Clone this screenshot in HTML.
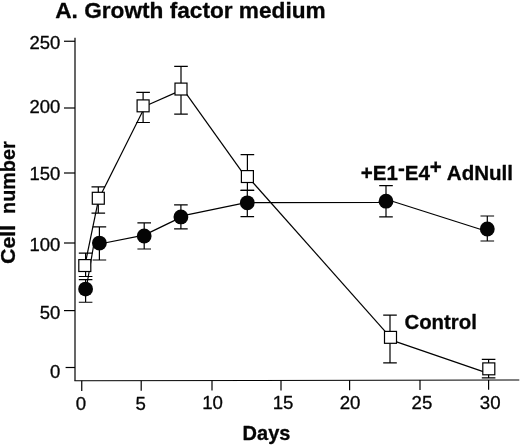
<!DOCTYPE html>
<html><head><meta charset="utf-8"><title>A. Growth factor medium</title>
<style>
html,body{margin:0;padding:0;background:#fff;}
svg{display:block;filter:grayscale(1);}
text{font-family:"Liberation Sans",Arial,Helvetica,sans-serif;fill:#050505;stroke:#050505;stroke-width:0.3px;stroke-linejoin:round;}
.b{font-weight:bold;}
.l{stroke:#000;stroke-width:1.2;fill:none;}
</style></head><body>
<svg width="520" height="445" viewBox="0 0 520 445">
<rect width="520" height="445" fill="#fff"/>
<g class="l">
<path d="M75 37.8V380.8"/>
<path d="M74.4 380.8L519.3 379.95" stroke-width="1.1"/>
<path d="M64 41.25H75"/>
<path d="M64 108H75"/>
<path d="M64 173H75"/>
<path d="M64 243H75"/>
<path d="M64 310.6H75"/>
<path d="M65.6 367.5H75"/>
<path d="M81.75 380.79V390.98"/>
<path d="M141.2 380.67V390.80"/>
<path d="M212 380.53V390.59"/>
<path d="M281 380.39V390.38"/>
<path d="M349.6 380.25V390.18"/>
<path d="M420 380.11V389.96"/>
<path d="M488.6 379.97V389.76"/>
</g>
<text font-size="17.6" text-anchor="end" transform="translate(60.2 49.2) scale(1.05 1)">250</text>
<text font-size="17.6" text-anchor="end" transform="translate(60.2 112.6) scale(1.05 1)">200</text>
<text font-size="17.6" text-anchor="end" transform="translate(60.2 179.8) scale(1.05 1)">150</text>
<text font-size="17.6" text-anchor="end" transform="translate(60.2 251.1) scale(1.05 1)">100</text>
<text font-size="17.6" text-anchor="end" transform="translate(60.2 319.2) scale(1.05 1)">50</text>
<text font-size="17.6" text-anchor="end" transform="translate(60.2 377.9) scale(1.05 1)">0</text>
<text font-size="17.6" text-anchor="middle" transform="translate(80.9 410) scale(1.06 1)">0</text>
<text font-size="17.6" text-anchor="middle" transform="translate(140.6 410) scale(1.06 1)">5</text>
<text font-size="17.6" text-anchor="middle" transform="translate(212.5 409.2) scale(1.06 1)">10</text>
<text font-size="17.6" text-anchor="middle" transform="translate(283 409.2) scale(1.06 1)">15</text>
<text font-size="17.6" text-anchor="middle" transform="translate(350.1 409.2) scale(1.06 1)">20</text>
<text font-size="17.6" text-anchor="middle" transform="translate(421.9 409.2) scale(1.06 1)">25</text>
<text font-size="17.6" text-anchor="middle" transform="translate(490.2 409.2) scale(1.06 1)">30</text>
<g class="l">
<path d="M84.9 265.4L98.8 198.1"/>
<path d="M101.0 194.6L143.4 109.8"/>
<path d="M146.0 105.7L178.0 91.6"/>
<path d="M186.0 93.4L242.4 172.4"/>
<path d="M247.4 176.3L390.0 336.8"/>
<path d="M390.75 339.85L489.0 373.6"/>
<path d="M94.04 243.0L86.65 286.0"/>
<path d="M99.4 244.0L144.2 235.1"/>
<path d="M144.2 235.1L180.9 217.4"/>
<path d="M180.9 216.2L247.3 202.3"/>
<path d="M247.3 202.7L386.0 202.5"/>
<path d="M386.0 199.2L487.3 231.5"/>
<path d="M85.6 253.1V276.5M78.8 253.1H92.4M78.8 276.5H92.4"/>
<path d="M98.3 186.9V213.1M91.5 186.9H105.1M91.5 213.1H105.1"/>
<path d="M143.1 92.3V122.5M136.3 92.3H149.9M136.3 122.5H149.9"/>
<path d="M181.0 66.3V114.2M174.2 66.3H187.8M174.2 114.2H187.8"/>
<path d="M247.4 154.6V190.3M240.6 154.6H254.2M240.6 190.3H254.2"/>
<path d="M390.0 315.2V362.8M383.2 315.2H396.8M383.2 362.8H396.8"/>
<path d="M488.6 359.3V377.8M481.8 359.3H495.4M481.8 377.8H495.4"/>
<path d="M85.6 279.6V302.25M78.8 279.6H92.4M78.8 302.25H92.4"/>
<path d="M99.4 226.9V260.0M92.6 226.9H106.2M92.6 260.0H106.2"/>
<path d="M144.2 222.9V249.0M137.4 222.9H151.0M137.4 249.0H151.0"/>
<path d="M180.9 204.8V228.8M174.1 204.8H187.7M174.1 228.8H187.7"/>
<path d="M247.3 190.3V216.7M240.5 190.3H254.1M240.5 216.7H254.1"/>
<path d="M386.0 185.6V216.9M379.2 185.6H392.8M379.2 216.9H392.8"/>
<path d="M487.3 216.0V241.0M480.5 216.0H494.1M480.5 241.0H494.1"/>
</g>
<circle cx="85.6" cy="289.1" r="7.4" fill="#050505"/>
<circle cx="99.4" cy="243.1" r="7.4" fill="#050505"/>
<circle cx="144.2" cy="236.0" r="7.4" fill="#050505"/>
<circle cx="180.9" cy="216.9" r="7.4" fill="#050505"/>
<circle cx="247.3" cy="202.8" r="7.4" fill="#050505"/>
<circle cx="386.0" cy="201.2" r="7.4" fill="#050505"/>
<circle cx="487.3" cy="229.0" r="7.4" fill="#050505"/>
<rect x="78.8" y="259.6" width="12" height="11.9" fill="#fff" stroke="#000" stroke-width="1.2"/>
<rect x="92.3" y="192.3" width="12" height="11.9" fill="#fff" stroke="#000" stroke-width="1.2"/>
<rect x="137.1" y="99.9" width="12" height="11.9" fill="#fff" stroke="#000" stroke-width="1.2"/>
<rect x="175.0" y="83.1" width="12" height="11.9" fill="#fff" stroke="#000" stroke-width="1.2"/>
<rect x="241.4" y="170.6" width="12" height="11.9" fill="#fff" stroke="#000" stroke-width="1.2"/>
<rect x="384.5" y="331.4" width="12" height="11.9" fill="#fff" stroke="#000" stroke-width="1.2"/>
<rect x="482.8" y="362.9" width="12" height="11.9" fill="#fff" stroke="#000" stroke-width="1.2"/>
<text class="b" font-size="22.5" transform="translate(55.2 18.3) scale(1.007 1)" xml:space="preserve">A. Growth factor medium</text>
<text class="b" font-size="20.2" transform="translate(242.6 440) scale(0.99 1)" xml:space="preserve">Days</text>
<text class="b" font-size="20.4" transform="translate(404.4 328.5) scale(1.0 1)" xml:space="preserve">Control</text>
<text class="b" font-size="20" transform="translate(360.8 180.1) scale(1.027 1)" xml:space="preserve">+E1<tspan dy="-4.8">-</tspan><tspan dy="4.8">E4</tspan><tspan dy="-6.3">+</tspan><tspan dy="6.3"> AdNull</tspan></text>
<text class="b" font-size="20.2" transform="translate(15.4 264) rotate(-90) scale(1.06 1)" xml:space="preserve">Cell</text>
<text class="b" font-size="20.2" transform="translate(15.4 213.9) rotate(-90) scale(0.98 1)" xml:space="preserve">number</text>
</svg>
</body></html>
